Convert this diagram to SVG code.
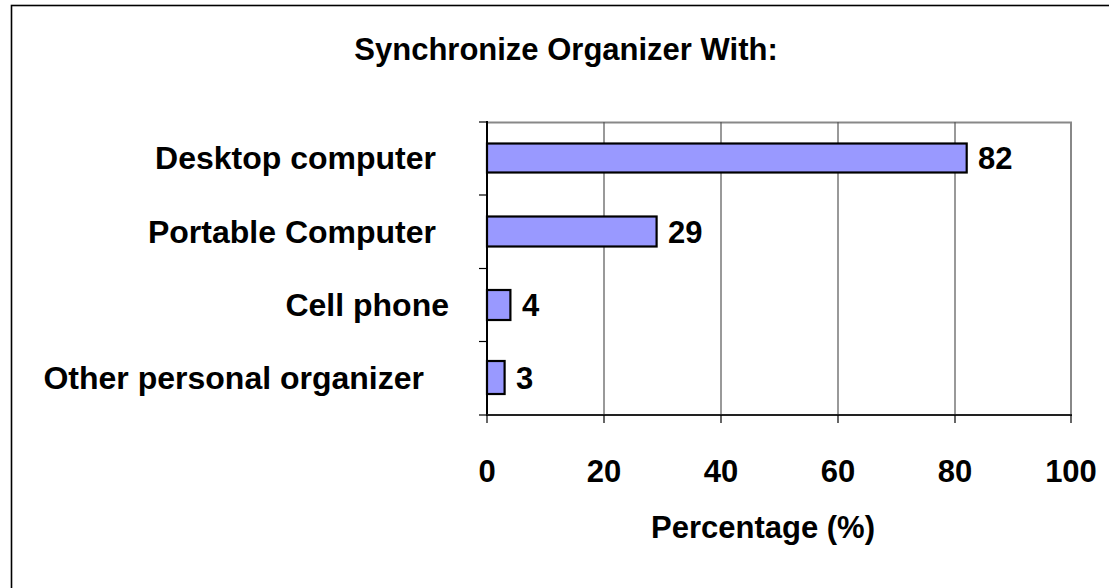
<svg xmlns="http://www.w3.org/2000/svg" width="1109" height="588" viewBox="0 0 1109 588">
<style>
text{font-family:"Liberation Sans",Arial,sans-serif;font-weight:bold;fill:#000}
.t{font-size:31px}
.c{font-size:32px;text-anchor:end}
.v{font-size:31px}
.x{font-size:31px;text-anchor:middle}
.bar{fill:#9999FF;stroke:#000;stroke-width:2.2}
.grid{stroke:#555;stroke-width:1.2}
.tick{stroke:#000;stroke-width:1.2}
</style>
<rect width="1109" height="588" fill="#fff"/>
<rect x="11.5" y="5.5" width="1200" height="700" fill="none" stroke="#000" stroke-width="1.6"/>
<text class="t" x="566" y="60" text-anchor="middle">Synchronize Organizer With:</text>
<g id="plot">
<rect x="487" y="122.5" width="584" height="292.5" fill="#fff" stroke="#888" stroke-width="2"/>
<line class="grid" x1="604" y1="122" x2="604" y2="415"/>
<line class="grid" x1="721" y1="122" x2="721" y2="415"/>
<line class="grid" x1="838" y1="122" x2="838" y2="415"/>
<line class="grid" x1="955" y1="122" x2="955" y2="415"/>
<line x1="487" y1="121" x2="487" y2="416" stroke="#000" stroke-width="2"/>
<line x1="486" y1="415" x2="1072" y2="415" stroke="#222" stroke-width="2"/>
</g>
<g id="ticks">
<line class="tick" x1="479" y1="122" x2="487" y2="122"/>
<line class="tick" x1="479" y1="195" x2="487" y2="195"/>
<line class="tick" x1="479" y1="268.5" x2="487" y2="268.5"/>
<line class="tick" x1="479" y1="341.5" x2="487" y2="341.5"/>
<line class="tick" x1="479" y1="415" x2="487" y2="415"/>
<line class="tick" x1="487" y1="415" x2="487" y2="423"/>
<line class="tick" x1="604" y1="415" x2="604" y2="423"/>
<line class="tick" x1="721" y1="415" x2="721" y2="423"/>
<line class="tick" x1="838" y1="415" x2="838" y2="423"/>
<line class="tick" x1="955" y1="415" x2="955" y2="423"/>
<line class="tick" x1="1071" y1="415" x2="1071" y2="423"/>
</g>
<g id="bar-desktop">
<rect class="bar" x="487" y="143.5" width="479.7" height="29"/>
<text class="v" x="978" y="169">82</text>
<text class="c" x="436" y="169">Desktop computer</text>
</g>
<g id="bar-portable">
<rect class="bar" x="487" y="216.5" width="169.6" height="30"/>
<text class="v" x="668" y="243">29</text>
<text class="c" x="436" y="243">Portable Computer</text>
</g>
<g id="bar-cell">
<rect class="bar" x="487" y="290" width="23.4" height="30"/>
<text class="v" x="522" y="316">4</text>
<text class="c" x="449" y="316">Cell phone</text>
</g>
<g id="bar-other">
<rect class="bar" x="487" y="361" width="17.6" height="33"/>
<text class="v" x="516" y="389">3</text>
<text class="c" x="424" y="389">Other personal organizer</text>
</g>
<g id="axis-labels">
<text class="x" x="487" y="482">0</text>
<text class="x" x="604" y="482">20</text>
<text class="x" x="721" y="482">40</text>
<text class="x" x="838" y="482">60</text>
<text class="x" x="955" y="482">80</text>
<text class="x" x="1071" y="482">100</text>
<text class="x" x="763" y="538">Percentage (%)</text>
</g>
</svg>
